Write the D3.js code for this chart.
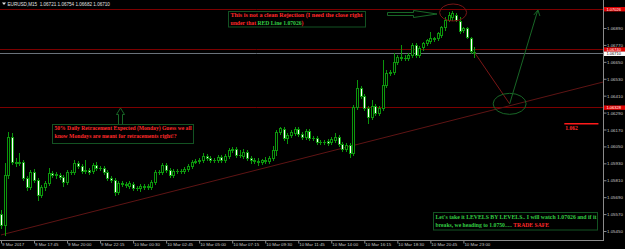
<!DOCTYPE html>
<html>
<head>
<meta charset="utf-8">
<style>
html,body{margin:0;padding:0;background:#000;}
svg{display:block;}
</style>
</head>
<body>
<svg id='chart'></svg>
<script src="https://cdn.jsdelivr.net/npm/d3@7"></script>
<script>
W = 625
H = 249
PLOT_RIGHT = 603
PLOT_BOTTOM = 240

// EURUSD M15, 9 Mar 2017 15:30 -> 10 Mar 2017 23:45, [open, high, low, close]
var ohlc = [
	[1.05571,1.05600,1.05472,1.05493],[1.05493,1.05933,1.05422,1.05848],[1.05848,1.06153,1.05827,1.06117],
	[1.06117,1.06146,1.05926,1.05940],[1.05940,1.05968,1.05912,1.05933],[1.05933,1.06004,1.05919,1.05940],
	[1.05940,1.05954,1.05812,1.05827],[1.05827,1.05841,1.05741,1.05763],[1.05763,1.05883,1.05749,1.05869],
	[1.05869,1.05890,1.05798,1.05812],[1.05812,1.05827,1.05671,1.05706],[1.05706,1.05777,1.05692,1.05763],
	[1.05763,1.05805,1.05741,1.05791],[1.05791,1.05897,1.05777,1.05862],[1.05862,1.05876,1.05834,1.05848],
	[1.05848,1.05869,1.05827,1.05851],[1.05848,1.05862,1.05819,1.05834],[1.05834,1.05848,1.05770,1.05798],
	[1.05798,1.05883,1.05784,1.05869],[1.05869,1.05883,1.05855,1.05872],[1.05869,1.05954,1.05855,1.05933],
	[1.05933,1.05947,1.05897,1.05912],[1.05912,1.05926,1.05862,1.05876],[1.05876,1.05954,1.05862,1.05883],
	[1.05883,1.05897,1.05855,1.05869],[1.05876,1.05933,1.05862,1.05919],[1.05919,1.05940,1.05883,1.05897],
	[1.05897,1.05912,1.05883,1.05899],[1.05897,1.05912,1.05855,1.05869],[1.05869,1.05883,1.05812,1.05827],
	[1.05827,1.05841,1.05798,1.05812],[1.05812,1.05827,1.05706,1.05727],[1.05727,1.05805,1.05713,1.05791],
	[1.05791,1.05805,1.05770,1.05784],[1.05784,1.05798,1.05763,1.05777],[1.05770,1.05805,1.05756,1.05791],
	[1.05784,1.05798,1.05741,1.05756],[1.05756,1.05770,1.05741,1.05758],[1.05756,1.05784,1.05734,1.05770],
	[1.05770,1.05784,1.05749,1.05763],[1.05763,1.05784,1.05749,1.05770],[1.05763,1.05812,1.05749,1.05798],
	[1.05798,1.05883,1.05784,1.05869],[1.05869,1.05883,1.05855,1.05866],[1.05869,1.05933,1.05855,1.05919],
	[1.05919,1.05933,1.05869,1.05883],[1.05883,1.05897,1.05834,1.05848],[1.05848,1.05890,1.05834,1.05876],
	[1.05876,1.05890,1.05862,1.05879],[1.05876,1.05890,1.05862,1.05873],[1.05876,1.05905,1.05862,1.05890],
	[1.05890,1.05926,1.05876,1.05912],[1.05912,1.05954,1.05897,1.05940],[1.05940,1.05961,1.05933,1.05947],
	[1.05947,1.05968,1.05933,1.05954],[1.05954,1.06004,1.05940,1.05983],[1.05983,1.05997,1.05954,1.05968],
	[1.05968,1.05983,1.05940,1.05954],[1.05954,1.05968,1.05940,1.05956],[1.05954,1.05990,1.05940,1.05975],
	[1.05975,1.05990,1.05940,1.05954],[1.05954,1.05997,1.05940,1.05983],[1.05983,1.06039,1.05968,1.06025],
	[1.06025,1.06046,1.06011,1.06032],[1.06032,1.06046,1.05975,1.05990],[1.05990,1.06025,1.05975,1.05992],
	[1.05983,1.06032,1.05968,1.06011],[1.06011,1.06025,1.05954,1.05968],[1.05968,1.05983,1.05933,1.05954],
	[1.05954,1.05968,1.05933,1.05947],[1.05947,1.05968,1.05919,1.05940],[1.05940,1.05961,1.05926,1.05954],
	[1.05954,1.05975,1.05933,1.05947],[1.05947,1.05983,1.05933,1.05968],[1.05968,1.06053,1.05954,1.06025],
	[1.06025,1.06167,1.05990,1.06153],[1.06153,1.06188,1.06138,1.06181],[1.06174,1.06188,1.06096,1.06110],
	[1.06110,1.06146,1.06075,1.06131],[1.06131,1.06167,1.06117,1.06153],[1.06146,1.06188,1.06131,1.06174],
	[1.06174,1.06188,1.06124,1.06138],[1.06138,1.06153,1.06103,1.06117],[1.06117,1.06174,1.06103,1.06160],
	[1.06160,1.06174,1.06096,1.06110],[1.06110,1.06124,1.06096,1.06108],[1.06110,1.06124,1.06068,1.06082],
	[1.06082,1.06096,1.06068,1.06084],[1.06082,1.06096,1.06068,1.06080],[1.06089,1.06103,1.06061,1.06075],
	[1.06082,1.06117,1.06068,1.06103],[1.06096,1.06146,1.06082,1.06117],[1.06117,1.06131,1.06053,1.06068],
	[1.06068,1.06082,1.06018,1.06032],[1.06032,1.06075,1.06018,1.06061],[1.06061,1.06075,1.05975,1.06004],
	[1.06004,1.06344,1.05990,1.06330],[1.06330,1.06521,1.06316,1.06465],[1.06465,1.06479,1.06394,1.06408],
	[1.06408,1.06422,1.06309,1.06323],[1.06323,1.06337,1.06217,1.06259],[1.06259,1.06380,1.06245,1.06337],
	[1.06337,1.06351,1.06273,1.06287],[1.06287,1.06337,1.06273,1.06323],[1.06323,1.06663,1.06309,1.06486],
	[1.06486,1.06592,1.06472,1.06571],[1.06571,1.06592,1.06557,1.06578],[1.06578,1.06713,1.06564,1.06649],
	[1.06649,1.06699,1.06635,1.06684],[1.06684,1.06770,1.06663,1.06677],[1.06677,1.06699,1.06663,1.06680],
	[1.06677,1.06713,1.06663,1.06699],[1.06699,1.06784,1.06684,1.06770],[1.06770,1.06784,1.06684,1.06699],
	[1.06699,1.06762,1.06684,1.06748],[1.06755,1.06791,1.06734,1.06784],[1.06784,1.06812,1.06770,1.06805],
	[1.06798,1.06862,1.06784,1.06819],[1.06812,1.06826,1.06798,1.06819],[1.06819,1.06862,1.06805,1.06855],
	[1.06840,1.06904,1.06826,1.06897],[1.06897,1.06968,1.06876,1.06947],[1.06947,1.07003,1.06940,1.06982],
	[1.06968,1.07011,1.06947,1.06996],[1.06982,1.06996,1.06940,1.06947],[1.06940,1.06968,1.06855,1.06869],
	[1.06876,1.06897,1.06862,1.06890],[1.06890,1.06897,1.06819,1.06826],[1.06819,1.06826,1.06713,1.06727],
	[1.06721,1.06754,1.06682,1.06710]
]

var timeTickBars = [0,9,18,27,36,45,54,63,72,81,90,99,108,117,126]
var timeTickLabels = ['9 Mar 2017','9 Mar 17:45','9 Mar 20:00','9 Mar 22:15','10 Mar 00:30','10 Mar 02:45',
	'10 Mar 05:00','10 Mar 07:15','10 Mar 09:30','10 Mar 11:45','10 Mar 14:00','10 Mar 16:15',
	'10 Mar 18:30','10 Mar 20:45','10 Mar 23:00']
var priceTicks = [1.06890,1.06770,1.06650,1.06530,1.06410,1.06290,1.06170,1.06050,1.05930,1.05810,1.05690,1.05570,1.05450]
var redLevels = [1.07026, 1.06740, 1.06328]
var bidPrice = 1.06710
var trendAnchors = [[0, 1.05422], [129, 1.06275]]
var levelMark = [[153.5, 1.06210], [162.8, 1.06210]]
// projected path: last close -> pullback -> target, [bar, price]
var projection = [[129.2, 1.06710], [138.6, 1.06352], [146.3, 1.07018]]
var topCircle = [123.2, 1.07000]

var svg = d3.select('#chart').attr('width', W).attr('height', H)
svg.append('rect').attr('width', W).attr('height', H).attr('fill', '#000')

var x = d3.scaleLinear().domain([0, 129]).range([1, 474.4])
var y = d3.scaleLinear().domain([1.06890, 1.05450]).range([28, 231])

var GREEN = '#0c960c'
var RED_LINE = '#7c0000'

// horizontal levels
svg.selectAll('.level').data(redLevels).enter().append('line')
	.attr('x1', 0).attr('x2', PLOT_RIGHT)
	.attr('y1', function(d){return Math.round(y(d)) + 0.5})
	.attr('y2', function(d){return Math.round(y(d)) + 0.5})
	.style('stroke', RED_LINE).style('stroke-width', 1)

svg.append('line')
	.attr('x1', 0).attr('x2', PLOT_RIGHT)
	.attr('y1', Math.round(y(bidPrice)) + 0.5).attr('y2', Math.round(y(bidPrice)) + 0.5)
	.style('stroke', '#6a727a').style('stroke-width', 1)

// trend line, extended to the right edge
var trendSlope = (trendAnchors[1][1] - trendAnchors[0][1]) / (trendAnchors[1][0] - trendAnchors[0][0])
var endBar = x.invert(PLOT_RIGHT)
var trendPts = [trendAnchors[0], [endBar, trendAnchors[0][1] + trendSlope * (endBar - trendAnchors[0][0])]]
svg.append('path')
	.attr('d', d3.line().x(function(d){return x(d[0])}).y(function(d){return y(d[1])})(trendPts))
	.style('stroke', '#5e1414').style('stroke-width', 1).style('fill', 'none')

// candles
var candles = svg.append('g')
ohlc.forEach(function(b, i) {
	var xc = Math.round(x(i))
	var bull = b[3] >= b[0]
	candles.append('line')
		.attr('x1', xc + 0.5).attr('x2', xc + 0.5)
		.attr('y1', Math.round(y(b[1]))).attr('y2', Math.round(y(b[2])) + 1)
		.style('stroke', GREEN).style('stroke-width', 1)
	var top = Math.round(y(Math.max(b[0], b[3])))
	var bot = Math.round(y(Math.min(b[0], b[3])))
	if (bot - top < 1) {
		candles.append('line')
			.attr('x1', xc - 1).attr('x2', xc + 2)
			.attr('y1', top + 0.5).attr('y2', top + 0.5)
			.style('stroke', GREEN).style('stroke-width', 1)
	} else {
		candles.append('rect')
			.attr('x', xc - 0.5).attr('y', top + 0.5)
			.attr('width', 2).attr('height', bot - top)
			.style('fill', bull ? '#000' : '#fff')
			.style('stroke', GREEN).style('stroke-width', 1)
	}
})

// projection lines and circles
var lineGen = d3.line().x(function(d){return x(d[0])}).y(function(d){return y(d[1])})
svg.append('path').attr('d', lineGen(projection.slice(0, 2)))
	.style('stroke', '#7a1616').style('stroke-width', 1).style('fill', 'none')
svg.append('path').attr('d', lineGen(projection.slice(1, 3)))
	.style('stroke', '#186626').style('stroke-width', 1).style('fill', 'none')
var tip = [x(projection[2][0]), y(projection[2][1])]
svg.append('path')
	.attr('d', 'M ' + (tip[0] - 4) + ' ' + (tip[1] + 5) + ' L ' + tip[0] + ' ' + tip[1] + ' L ' + (tip[0] + 2) + ' ' + (tip[1] + 6))
	.style('stroke', '#186626').style('stroke-width', 1).style('fill', 'none')

svg.append('ellipse')
	.attr('cx', x(projection[1][0])).attr('cy', y(projection[1][1]))
	.attr('rx', 16.5).attr('ry', 10.5)
	.style('stroke', '#186626').style('fill', 'none')
svg.append('ellipse')
	.attr('cx', x(topCircle[0])).attr('cy', y(topCircle[1]))
	.attr('rx', 13.5).attr('ry', 8.5)
	.style('stroke', '#7a1616').style('fill', 'none')

// 1.062 mark
svg.append('path').attr('d', lineGen(levelMark))
	.style('stroke', '#ff1a1a').style('stroke-width', 1.5).style('fill', 'none')
svg.append('text')
	.attr('x', x(levelMark[0][0]) + 1).attr('y', y(levelMark[0][1]) + 6.5)
	.attr('font-family', 'Liberation Serif').attr('font-weight', 'bold').attr('font-size', 5.6)
	.attr('fill', '#ff2a2a').text('1.062')

// block arrows
svg.append('path')
	.attr('d', 'M 387.5 12.5 L 413.5 12.5 L 413.5 10.5 L 437 14 L 413.5 17.5 L 413.5 15.5 L 387.5 15.5 Z')
	.style('stroke', '#186626').style('fill', 'none')
svg.append('path')
	.attr('d', 'M 120.5 108 L 124.5 114.5 L 122.5 114.5 L 122.5 124.5 L 118.5 124.5 L 118.5 114.5 L 116.5 114.5 Z')
	.style('stroke', '#186626').style('fill', 'none')

// annotation boxes
var BOX = '#135222'
var TXT_RED = '#ff2a2a'
var TXT_GREEN = '#33cc44'
function note(box, lines) {
	svg.append('rect')
		.attr('x', box[0] + 0.5).attr('y', box[1] + 0.5).attr('width', box[2]).attr('height', box[3])
		.style('stroke', BOX).style('fill', '#000')
	lines.forEach(function(ln) {
		var t = svg.append('text')
			.attr('x', box[0] + 2.5).attr('y', ln.y)
			.attr('font-family', 'Liberation Serif').attr('font-weight', 'bold').attr('font-size', 5.6)
			.attr('textLength', ln.len).attr('lengthAdjust', 'spacingAndGlyphs')
		ln.parts.forEach(function(p) {
			t.append('tspan').attr('fill', p[1]).text(p[0])
		})
	})
}

note([228, 11, 137, 15.5], [
	{y: 17, len: 132, parts: [['This is not a clean Rejection (I need the close right', TXT_RED]]},
	{y: 25, len: 73, parts: [['under that ', TXT_RED], ['RED Line 1.07026', TXT_GREEN], [')', TXT_RED]]}
])
note([52, 124, 141, 19], [
	{y: 129.8, len: 137, parts: [['50% Daily Retracement Expected (Monday) Guess we all', TXT_RED]]},
	{y: 137.8, len: 122, parts: [['know Mondays are meant for retracements right!?', TXT_RED]]}
])
note([433, 212, 164, 17.5], [
	{y: 219.3, len: 161, parts: [["Let's take it LEVELS BY LEVELS.. I will watch 1.07026 and if it", TXT_GREEN]]},
	{y: 227.2, len: 113.5, parts: [['breaks, we heading to 1.0750..... ', TXT_GREEN], ['TRADE SAFE', TXT_RED]]}
])

// axes
var AXIS = '#8a8a8a'
var AXIS_TXT = '#c8c8c8'
svg.append('line').attr('x1', PLOT_RIGHT + 0.5).attr('x2', PLOT_RIGHT + 0.5).attr('y1', 0).attr('y2', PLOT_BOTTOM + 1)
	.style('stroke', AXIS)
svg.append('line').attr('x1', 0).attr('x2', PLOT_RIGHT + 1).attr('y1', PLOT_BOTTOM + 0.5).attr('y2', PLOT_BOTTOM + 0.5)
	.style('stroke', AXIS)

var xAxis = svg.append('g').attr('transform', 'translate(0,' + (PLOT_BOTTOM + 0.5) + ')')
	.call(d3.axisBottom(x).tickValues(timeTickBars).tickSize(3)
		.tickFormat(function(d, i){return timeTickLabels[i]}))
xAxis.select('.domain').remove()
xAxis.selectAll('line').style('stroke', AXIS)
xAxis.selectAll('text')
	.attr('text-anchor', 'start').attr('dx', 0.5).attr('y', 5.6).attr('dy', 0)
	.attr('font-family', 'Liberation Sans').attr('font-size', 4.4).attr('fill', AXIS_TXT)

var yAxis = svg.append('g').attr('transform', 'translate(' + (PLOT_RIGHT + 0.5) + ',0)')
	.call(d3.axisRight(y).tickValues(priceTicks).tickSize(3).tickFormat(d3.format('.5f')))
yAxis.select('.domain').remove()
yAxis.selectAll('line').style('stroke', AXIS)
yAxis.selectAll('text')
	.attr('x', 3.5).attr('dy', '0.35em')
	.attr('font-family', 'Liberation Sans').attr('font-size', 4.4).attr('fill', AXIS_TXT)

// price tags on the axis
function priceTag(p, bg, fg, dyShift) {
	var yc = y(p) + dyShift
	svg.append('rect').attr('x', PLOT_RIGHT + 1).attr('y', yc - 2.2).attr('width', W - PLOT_RIGHT - 1).attr('height', 4.4)
		.style('fill', bg)
	svg.append('text').attr('x', PLOT_RIGHT + 3.5).attr('y', yc).attr('dy', '0.35em')
		.attr('font-family', 'Liberation Sans').attr('font-size', 4).attr('fill', fg)
		.text(d3.format('.5f')(p))
}
redLevels.forEach(function(p){ priceTag(p, '#e00000', '#fff', 0.4) })
priceTag(bidPrice, '#ffffff', '#000', 0.4)

// header
svg.append('path').attr('d', 'M 2 2.5 L 6 2.5 L 4 5 Z').style('fill', '#e0e0e0')
var last = ohlc[ohlc.length - 1]
svg.append('text').attr('x', 7.5).attr('y', 5.8)
	.attr('font-family', 'Liberation Sans').attr('font-size', 4.6).attr('fill', '#e0e0e0')
	.attr('xml:space', 'preserve')
	.text('EURUSD,M15  ' + last.map(d3.format('.5f')).join(' '))
</script>
</body>
</html>
